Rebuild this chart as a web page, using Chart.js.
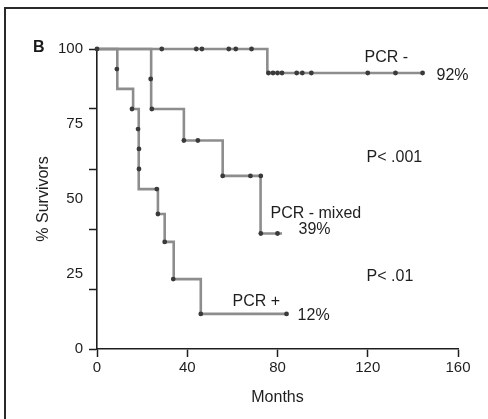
<!DOCTYPE html>
<html>
<head>
<meta charset="utf-8">
<script src="https://cdn.jsdelivr.net/npm/chart.js@4.4.1/dist/chart.umd.min.js"></script>
<style>
  html, body { margin: 0; padding: 0; background: #fff; }
  #wrap { position: relative; width: 488px; height: 419px; overflow: hidden; background: #fff; }
  #frame { position: absolute; left: 4px; top: 7px; width: 700px; height: 700px;
           border-top: 2px solid #2a2a2a; border-left: 2px solid #2a2a2a; }
  #panel { position: absolute; left: 33px; top: 38px; font: bold 16px "Liberation Sans", Arial, sans-serif; color: #1a1a1a; }
  canvas { position: absolute; left: 0; top: 0; }
</style>
</head>
<body>
<div id="wrap">
  <div id="frame"></div>
  <canvas id="c" width="488" height="419"></canvas>
  <div id="panel">B</div>
</div>
<script>
// ---- Data (months, % survivors) ----
const pcrNegTimes = [0, 75.5, 144];
const pcrNegSurv  = [100, 92, 92];
const pcrNegCensorTimes = [0, 28.7, 44, 46.5, 58.4, 61.5, 68.5, 76, 78, 80, 82, 88.5, 91, 95, 120, 132.3, 144.3];
const pcrNegCensorSurv  = [100, 100, 100, 100, 100, 100, 100, 92, 92, 92, 92, 92, 92, 92, 92, 92, 92];

const mixedTimes = [0, 24, 24, 38.5, 55.7, 72.5, 82];
const mixedSurv  = [100, 90, 80, 69.5, 57.7, 38.5, 38.5];
const mixedCensorTimes = [23.8, 24.3, 38.5, 44.7, 55.7, 68, 72.6, 72.6, 80];
const mixedCensorSurv  = [90, 80, 69.5, 69.5, 57.7, 57.7, 57.7, 38.5, 38.5];

const pcrPosTimes = [0, 9, 9, 16, 18.5, 18.5, 18.5, 18.5, 27, 30, 34, 46, 84];
const pcrPosSurv  = [100, 93.3, 86.7, 80, 73.3, 66.7, 60, 53.3, 45, 35.7, 23.3, 11.7, 11.7];
const pcrPosCensorTimes = [8.8, 15.5, 18.2, 18.6, 18.6, 26.5, 27, 30, 33.8, 46, 84];
const pcrPosCensorSurv  = [93.3, 80, 73.3, 66.7, 60, 53.3, 45, 35.7, 23.3, 11.7, 11.7];

const xTicks = [0, 40, 80, 120, 160];
const yTickMarks = [0, 20, 40, 60, 80, 100];
const yTickLabels = [0, 25, 50, 75, 100];

const annoText = ["PCR -", "92%", "P< .001", "PCR - mixed", "39%", "P< .01", "PCR +", "12%"];
const annoX    = [118.6, 150.5, 119.5, 76.9, 89.3, 119.5, 60.1, 88.9];
const annoY    = [97.3, 91.3, 63.7, 45.3, 39.7, 24.0, 15.7, 11.3];

// ---- helpers ----
const pts = (xs, ys) => xs.map((x, i) => ({ x: x, y: ys[i] }));
const LINE = '#8d8d8d';
const DOT = '#3a3a3a';
const FONT = '"Liberation Sans", Arial, sans-serif';

function stepSet(label, xs, ys) {
  return { type: 'line', label, data: pts(xs, ys), stepped: true, borderColor: LINE,
           borderWidth: 2.6, pointRadius: 0, fill: false, clip: false, order: 2 };
}
function dotSet(label, xs, ys) {
  return { type: 'scatter', label, data: pts(xs, ys), showLine: false, pointRadius: 2.4,
           pointBackgroundColor: DOT, pointBorderColor: DOT, pointBorderWidth: 0, clip: false, order: 1 };
}

const allYTicks = Array.from(new Set(yTickMarks.concat(yTickLabels))).sort((a, b) => a - b);

const annoPlugin = {
  id: 'anno',
  afterDatasetsDraw(chart) {
    const { ctx, scales: { x, y } } = chart;
    ctx.save();
    ctx.fillStyle = '#1e1e1e';
    ctx.font = '16px ' + FONT;
    ctx.textAlign = 'left';
    ctx.textBaseline = 'middle';
    annoText.forEach((t, i) => ctx.fillText(t, x.getPixelForValue(annoX[i]), y.getPixelForValue(annoY[i])));
    ctx.restore();
  }
};

new Chart(document.getElementById('c'), {
  data: {
    datasets: [
      stepSet('PCR -', pcrNegTimes, pcrNegSurv),
      stepSet('PCR - mixed', mixedTimes, mixedSurv),
      stepSet('PCR +', pcrPosTimes, pcrPosSurv),
      dotSet('PCR - censored', pcrNegCensorTimes, pcrNegCensorSurv),
      dotSet('PCR - mixed censored', mixedCensorTimes, mixedCensorSurv),
      dotSet('PCR + censored', pcrPosCensorTimes, pcrPosCensorSurv)
    ]
  },
  options: {
    responsive: false,
    animation: false,
    layout: { padding: { left: 0, top: 49, right: 30, bottom: 0 } },
    plugins: { legend: { display: false }, tooltip: { enabled: false } },
    scales: {
      x: {
        type: 'linear', min: 0, max: 160,
        afterBuildTicks: s => { s.ticks = xTicks.map(v => ({ value: v })); },
        afterFit: s => { s.height = 70; },
        ticks: { autoSkip: false, maxRotation: 0, padding: 2, color: '#1e1e1e', font: { family: FONT, size: 15 } },
        grid: { drawOnChartArea: false, drawTicks: true, tickLength: 8, tickColor: '#1e1e1e', tickWidth: 1.5 },
        border: { display: true, color: '#1e1e1e', width: 1.6 },
        title: { display: true, text: 'Months', color: '#1e1e1e', font: { family: FONT, size: 16 }, padding: { top: 0, bottom: 12 } }
      },
      y: {
        type: 'linear', min: 0, max: 100,
        afterBuildTicks: s => { s.ticks = allYTicks.map(v => ({ value: v })); },
        afterFit: s => { s.width = 97; },
        ticks: {
          autoSkip: false, padding: 6, color: '#1e1e1e', font: { family: FONT, size: 15 },
          callback: v => (yTickLabels.includes(v) ? String(v) : '')
        },
        grid: {
          drawOnChartArea: false, drawTicks: true, tickLength: 8, tickWidth: 1.5,
          tickColor: c => (c.tick && yTickMarks.includes(c.tick.value) ? '#1e1e1e' : 'rgba(0,0,0,0)')
        },
        border: { display: true, color: '#1e1e1e', width: 1.6 },
        title: { display: true, text: '% Survivors', color: '#1e1e1e', font: { family: FONT, size: 16 }, padding: { top: 34, bottom: 0 } }
      }
    }
  },
  plugins: [annoPlugin]
});
</script>
</body>
</html>
